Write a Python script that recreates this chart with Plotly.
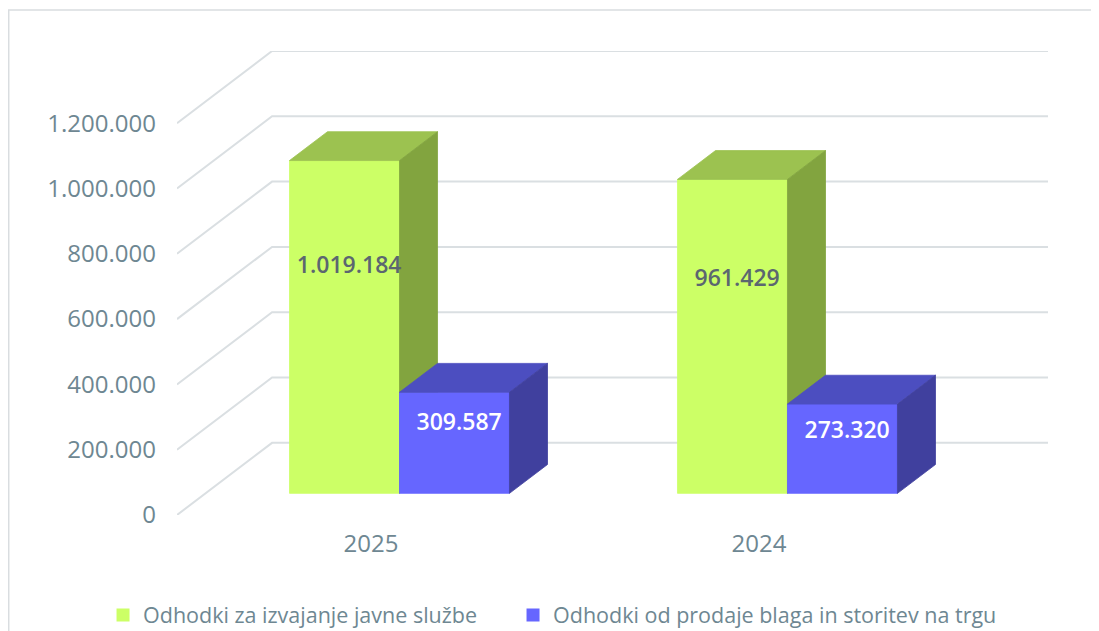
import plotly.graph_objects as go

# ---------------- data ----------------
categories = ["2025", "2024"]
series_names = ["Odhodki za izvajanje javne službe",
                "Odhodki od prodaje blaga in storitev na trgu"]
public_service = [1019184, 961429]
market_sales = [309587, 273320]
y_ticks = [0, 200000, 400000, 600000, 800000, 1000000, 1200000]

# ---------------- style ----------------
front_colors = ["#CCFF66", "#6666FF"]
top_colors = ["#9CC250", "#4C4EC0"]
side_colors = ["#82A43F", "#40409E"]
label_colors = ["#5B6670", "#FFFFFF"]
grid_color = "#DADFE2"
text_color = "#6E8792"
FONT = "Open Sans"

DX = 0.245        # 3D depth in category units
DY = 221000       # 3D depth in value units
W = 0.2835        # bar width (category units)
F0, F1 = 0.3, 0.7 # bar depth span (fraction of full depth)
LABEL_FRAC = 0.68

series_values = [public_service, market_sales]
ymax = y_ticks[-1] + DY

fig = go.Figure()

# gridlines (front-left diagonal + back wall)
gx, gy = [], []
for v in y_ticks:
    gx += [-0.5, -0.5 + DX, 1.5 + DX, None]
    gy += [v, v + DY, v + DY, None]
fig.add_trace(go.Scatter(x=gx, y=gy, mode="lines",
                         line=dict(color=grid_color, width=2),
                         hoverinfo="skip", showlegend=False))

ddx = (F1 - F0) * DX
ddy = (F1 - F0) * DY
base = F0 * DY

def poly(xs, ys, color):
    fig.add_trace(go.Scatter(x=xs + [xs[0]], y=ys + [ys[0]], mode="lines",
                             fill="toself", fillcolor=color,
                             line=dict(color=color, width=0.8),
                             hoverinfo="skip", showlegend=False))

label_x, label_y, label_t, label_c = [], [], [], []
for i, cat in enumerate(categories):
    for s in range(2):
        v = series_values[s][i]
        off = -W if s == 0 else 0.0
        x0 = i + F0 * DX + off
        x1 = x0 + W
        top = base + v
        poly([x0, x1, x1, x0], [base, base, top, top], front_colors[s])
        poly([x0, x1, x1 + ddx, x0 + ddx], [top, top, top + ddy, top + ddy], top_colors[s])
        poly([x1, x1, x1 + ddx, x1 + ddx], [base, top, top + ddy, base + ddy], side_colors[s])
        label_x.append((x0 + x1) / 2 + 0.012)
        label_y.append(base + v * LABEL_FRAC)
        label_t.append(f"{v:,}".replace(",", "."))
        label_c.append(label_colors[s])

fig.add_trace(go.Scatter(x=label_x, y=label_y, mode="text", text=label_t,
                         textfont=dict(family=FONT, size=23, color=label_c, weight=600),
                         hoverinfo="skip", showlegend=False))

# legend entries (one legend box per series, to match the spacing)
legend_ids = ["legend", "legend2"]
for s in range(2):
    fig.add_trace(go.Scatter(x=[None], y=[None], mode="markers", name=series_names[s],
                             legend=legend_ids[s],
                             marker=dict(symbol="square", size=13, color=front_colors[s])))

# outer chart frame
fig.add_shape(type="rect", xref="paper", yref="paper",
              x0=-0.1932, x1=1.1, y0=-0.4, y1=1.0884,
              line=dict(color="#D9DDE0", width=1.5), fillcolor="rgba(0,0,0,0)", layer="below")

legend_common = dict(orientation="h", xref="container", yref="container",
                     xanchor="left", y=0.0257, yanchor="middle",
                     font=dict(size=21.5, color=text_color), itemclick=False,
                     bgcolor="rgba(0,0,0,0)")

fig.update_layout(
    width=1091, height=623,
    margin=dict(l=169, r=51, t=43, b=116),
    paper_bgcolor="white", plot_bgcolor="white",
    separators=",.",
    font=dict(family=FONT, color=text_color),
    xaxis=dict(range=[-0.5, 1.5 + DX], tickvals=[0, 1], ticktext=categories,
               showgrid=False, zeroline=False, showline=False, ticks="",
               tickfont=dict(size=24, color=text_color), ticklabelstandoff=12,
               fixedrange=True),
    yaxis=dict(range=[0, ymax], tickvals=y_ticks, tickformat=",d",
               showgrid=False, zeroline=False, showline=False, ticks="",
               tickfont=dict(size=24, color=text_color), ticklabelstandoff=20,
               fixedrange=True),
    legend=dict(x=0.0871, **legend_common),
    legend2=dict(x=0.4629, **legend_common),
    showlegend=True,
)

fig.write_html("out.html")
